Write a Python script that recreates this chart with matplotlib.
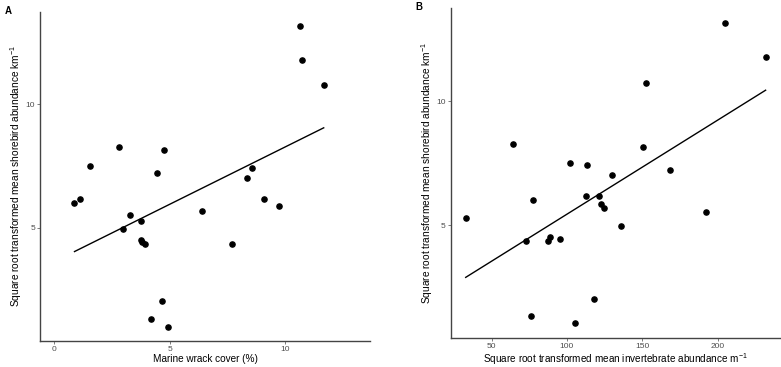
import matplotlib
matplotlib.use("Agg")
import matplotlib.pyplot as plt
import numpy as np

plt.rcParams['font.family'] = ['Liberation Sans', 'DejaVu Sans']
plt.rcParams['mathtext.fontset'] = 'custom'
plt.rcParams['mathtext.rm'] = 'Liberation Sans'

# panel A: marine wrack cover (%) vs sqrt shorebird abundance
wrack = [10.61, 10.71, 11.65, 2.81, 4.77, 1.57, 4.45, 8.55, 8.35, 0.89, 1.14, 9.07,
         9.71, 6.39, 3.28, 3.77, 2.97, 3.74, 3.81, 3.92, 7.70, 4.65, 4.20, 4.91]
birds_a = [13.15, 11.78, 10.77, 8.29, 8.15, 7.52, 7.23, 7.44, 7.03, 6.01, 6.18, 6.18,
           5.87, 5.70, 5.52, 5.28, 4.94, 4.53, 4.43, 4.35, 4.35, 2.03, 1.31, 1.01]
fit_a = (0.465, 3.63)   # slope, intercept

# panel B: sqrt invertebrate abundance vs sqrt shorebird abundance
inverts = [204.7, 231.9, 152.6, 64.1, 150.4, 102.3, 113.3, 130.1, 168.7, 77.4, 112.7, 121.5,
           122.8, 124.8, 32.8, 192.6, 136.1, 72.9, 87.3, 88.6, 95.4, 118.0, 76.2, 105.2]
birds_b = [13.13, 11.76, 10.74, 8.29, 8.15, 7.50, 7.43, 7.03, 7.21, 6.02, 6.17, 6.18,
           5.87, 5.69, 5.27, 5.51, 4.95, 4.35, 4.35, 4.52, 4.42, 2.03, 1.33, 1.04]
fit_b = (0.0379, 1.65)

ylabel = 'Square root transformed mean shorebird abundance km$^{-1}$'

fig = plt.figure(figsize=(7.81, 3.67), dpi=100)
ax1 = fig.add_axes([0.0512, 0.0717, 0.4226, 0.8956])
ax2 = fig.add_axes([0.577, 0.0798, 0.422, 0.8975])


def style(ax):
    for s in ['top', 'right']:
        ax.spines[s].set_visible(False)
    for s in ['left', 'bottom']:
        ax.spines[s].set_color('#444444')
        ax.spines[s].set_linewidth(1.0)
    ax.tick_params(length=2, width=0.6, color='#666666', labelcolor='#4d4d4d',
                   labelsize=6, pad=1.5)


# 绘制 A
ax1.scatter(wrack, birds_a, s=14, color='black', zorder=3)
xa = np.array([min(wrack), max(wrack)])
ax1.plot(xa, fit_a[0] * xa + fit_a[1], color='black', lw=1)
ax1.set_xlim(-0.6, 13.65)
ax1.set_ylim(0.44, 13.73)
ax1.set_xticks([0, 5, 10])
ax1.set_yticks([5, 10])
ax1.set_xlabel('Marine wrack cover (%)', fontsize=7.2, labelpad=1)
ax1.set_ylabel(ylabel, fontsize=7.3, va='center')
ax1.yaxis.set_label_coords(-0.0727, 0.5)
style(ax1)

# 绘制 B
ax2.scatter(inverts, birds_b, s=14, color='black', zorder=3)
xb = np.array([min(inverts), max(inverts)])
ax2.plot(xb, fit_b[0] * xb + fit_b[1], color='black', lw=1)
ax2.set_xlim(22.8, 241.6)
ax2.set_ylim(0.46, 13.74)
ax2.set_xticks([50, 100, 150, 200])
ax2.set_yticks([5, 10])
ax2.set_xlabel('Square root transformed mean invertebrate abundance m$^{-1}$', fontsize=7.2, labelpad=1)
ax2.set_ylabel(ylabel, fontsize=7.3, va='center')
ax2.yaxis.set_label_coords(-0.0702, 0.5)
style(ax2)

fig.text(0.006, 0.985, 'A', fontsize=7, fontweight='bold', va='top')
fig.text(0.532, 0.995, 'B', fontsize=7, fontweight='bold', va='top')

fig.savefig('out.png', dpi=100)
